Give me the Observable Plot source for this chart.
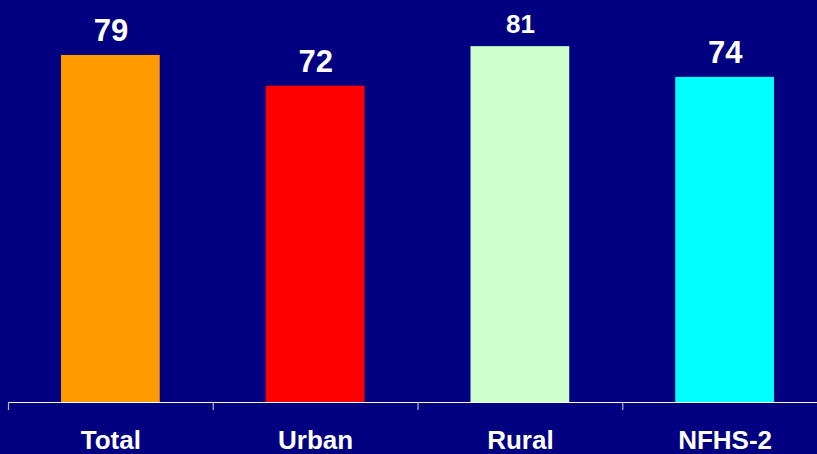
<!DOCTYPE html>
<html>
<head>
<meta charset="utf-8">
<script src="https://cdn.jsdelivr.net/npm/d3@7"></script>
<script src="https://cdn.jsdelivr.net/npm/@observablehq/plot@0.6"></script>
<style>
  html, body { margin: 0; padding: 0; background: #000080; }
  #chart { width: 817px; height: 454px; overflow: hidden; }
</style>
</head>
<body>
<div id="chart"></div>
<script>
const categories = ["Total", "Urban", "Rural", "NFHS-2"];
const values = [79, 72, 81, 74];
const colors = ["#FF9900", "#FF0000", "#CCFFCC", "#00FFFF"];

const data = categories.map((area, i) => ({area, value: values[i], color: colors[i]}));

const W = 817, H = 454;
const xRange = [8, 827];
const step = (xRange[1] - xRange[0]) / categories.length;
const font = "'Liberation Sans', Arial, sans-serif";

const chart = Plot.plot({
  width: W,
  height: H,
  marginTop: 0,
  marginBottom: 52,
  marginLeft: 8,
  marginRight: 0,
  style: {background: "#000080", fontFamily: font, overflow: "visible"},
  x: {domain: categories, range: xRange, padding: 0, round: false, axis: null},
  y: {domain: [0, 91.5], axis: null},
  marks: [
    Plot.barY(data, {x: "area", y: "value", fill: "color", insetLeft: 53, insetRight: 53}),
    Plot.ruleY([0], {stroke: "#ffffff", strokeWidth: 1.2}),
    // tick marks sit on the category boundaries
    Plot.ruleX(categories, {x: d => d, y1: () => 0, y2: () => 0, insetBottom: -8, dx: -step / 2, stroke: "#b8b8d0", strokeWidth: 1.2}),
    Plot.text(data, {
      x: "area", y: "value", text: d => String(d.value),
      lineAnchor: "bottom", dy: -14, fill: "#ffffff", fontWeight: "bold",
      fontSize: d => d.area === "Rural" ? 26 : 31
    }),
    Plot.text(categories, {
      x: d => d, y: () => 0, text: d => d,
      lineAnchor: "bottom", dy: 46, fill: "#ffffff", fontWeight: "bold", fontSize: 26
    })
  ]
});

document.getElementById("chart").appendChild(chart);
</script>
</body>
</html>
